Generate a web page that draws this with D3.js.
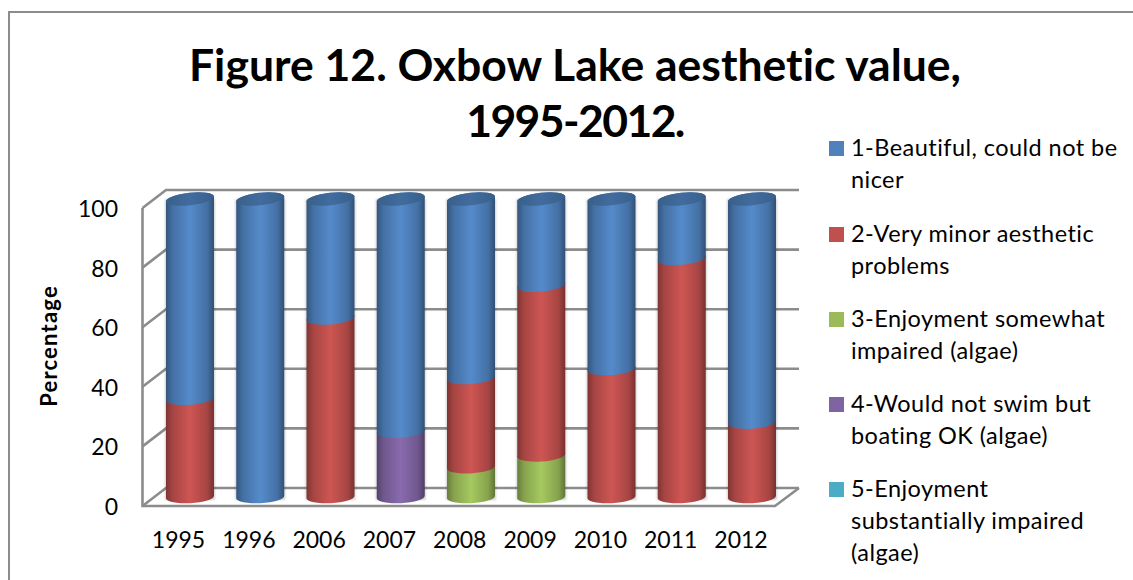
<!DOCTYPE html>
<html><head><meta charset="utf-8">
<script src="https://cdn.jsdelivr.net/npm/d3@7"></script>
<style>html,body{margin:0;padding:0;background:#fff;overflow:hidden}svg{display:block}text{font-family:Lato,"Open Sans",sans-serif;fill:#000;font-variant-ligatures:none}</style>
</head><body><svg id="c" width="1133" height="580"></svg>
<script>
const years=["1995","1996","2006","2007","2008","2009","2010","2011","2012"];
const beautiful=[67,100,40,78,60,29,57,20,75];
const veryMinor=[33,0,60,0,30,57,43,80,25];
const somewhat=[0,0,0,0,10,14,0,0,0];
const noSwim=[0,0,0,22,0,0,0,0,0];
const substantially=[0,0,0,0,0,0,0,0,0];
const yTicks=[0,20,40,60,80,100];
const titleLines=["Figure 12. Oxbow Lake aesthetic value,","1995-2012."];
const yTitle="Percentage";
const legendLines=[["1-Beautiful, could not be","nicer"],["2-Very minor aesthetic","problems"],["3-Enjoyment somewhat","impaired (algae)"],["4-Would not swim but","boating OK (algae)"],["5-Enjoyment","substantially impaired","(algae)"]];
const keys=["s1","s2","s3","s4","s5"];
const colors={s1:"#4f81bd",s2:"#c0504d",s3:"#9bbb59",s4:"#8064a2",s5:"#4bacc6"};
const stackOrder=["s5","s4","s3","s2","s1"];
const rows=years.map((y,i)=>({year:y,s1:beautiful[i],s2:veryMinor[i],s3:somewhat[i],s4:noSwim[i],s5:substantially[i]}));

const svg=d3.select("#c");
const frontX=d3.scaleBand().domain(years).range([142.5,775]);
const backX=d3.scaleBand().domain(years).range([166,799]);
const barX=d3.scaleBand().domain(years).range([166,776]).paddingInner(0.317).paddingOuter(0);
const frontY=d3.scaleLinear().domain([0,100]).range([506,208]);
const backY=d3.scaleLinear().domain([0,100]).range([488,190]);
const barY=d3.scaleLinear().domain([0,100]).range([497,199]);
const grey="#8c8c8c";

svg.append("path").attr("d","M9,580V12H1133").attr("fill","none").attr("stroke",grey).attr("stroke-width",2);

const grid=svg.append("g").attr("fill","none").attr("stroke",grey).attr("stroke-width",2.6);
grid.selectAll("path.g").data(yTicks).join("path").attr("class","g")
  .attr("d",t=>`M${frontX.range()[0]},${frontY(t)}L${backX.range()[0]},${backY(t)}L${backX.range()[1]},${backY(t)}`);
grid.append("path").attr("d",`M${frontX.range()[0]},${frontY(100)}V${frontY(0)}H${frontX.range()[1]}L${backX.range()[1]},${backY(0)}`);

const defs=svg.append("defs");
function grad(id,c){
  const b=d3.color(c);
  const g=defs.append("linearGradient").attr("id",id);
  [[0,b.darker(1.15)],[0.14,b.darker(0.4)],[0.5,b.brighter(0.2)],[0.86,b.darker(0.4)],[1,b.darker(1.35)]]
   .forEach(([o,col])=>g.append("stop").attr("offset",o).attr("stop-color",col.formatHex()));
}
keys.forEach(k=>grad("g"+k,colors[k]));
const gc=defs.append("linearGradient").attr("id","cap");
[[0,"#38608a"],[0.5,"#426c9e"],[1,"#38608a"]].forEach(([o,c])=>gc.append("stop").attr("offset",o).attr("stop-color",c));
const blur=defs.append("filter").attr("id","sh").attr("x","-20%").attr("width","140%");
blur.append("feGaussianBlur").attr("stdDeviation",1.2);

const stack=d3.stack().keys(stackOrder)(rows);
const rx=24, ry=6.2;
const tilt=d3.scaleLinear().domain([0,100]).range([1.3,2.6]);
const segs=[];
stack.forEach(layer=>layer.forEach((d,i)=>{ if(d[1]>d[0]) segs.push({key:layer.key,year:years[i],v0:d[0],v1:d[1]}); }));
const cx=y=>barX(y)+barX.bandwidth()/2;
const rot=v=>-Math.atan2(tilt(v),rx)*180/Math.PI;
function segPath(d){
  const c=cx(d.year),y0=barY(d.v0),y1=barY(d.v1),t0=tilt(d.v0),t1=tilt(d.v1);
  return `M${c-rx},${y0+t0}A${rx},${ry} ${rot(d.v0)} 0 0 ${c+rx},${y0-t0}L${c+rx},${y1-t1}A${rx},${ry} ${rot(d.v1)} 0 0 ${c-rx},${y1+t1}Z`;
}
svg.append("g").selectAll("rect").data(years).join("rect")
  .attr("x",y=>cx(y)-rx-1).attr("width",2*rx+2).attr("y",barY(100)).attr("height",barY(0)-barY(100)+3)
  .attr("fill","#000").attr("opacity",0.18).attr("filter","url(#sh)");
svg.append("g").selectAll("path").data(segs).join("path")
  .attr("d",segPath).attr("fill",d=>`url(#g${d.key})`);
svg.append("g").selectAll("path").data(years).join("path")
  .attr("d",y=>{const c=cx(y),yy=barY(100),t=tilt(100),r=rot(100);
    return `M${c-rx},${yy+t}A${rx},${ry} ${r} 0 0 ${c+rx},${yy-t}A${rx},${ry} ${r} 0 0 ${c-rx},${yy+t}Z`;})
  .attr("fill","url(#cap)");

const yAxis=d3.axisLeft(frontY).tickValues(yTicks).tickSize(0).tickPadding(0);
const yg=svg.append("g").attr("transform","translate(118,0)").call(yAxis);
yg.select(".domain").remove();
yg.selectAll("text").attr("font-size",23).attr("dy",8.5).attr("x",0).attr("text-anchor","end");
const xLabelX=d3.scalePoint().domain(years).range([178,740.5]);
const xAxis=d3.axisBottom(xLabelX).tickSize(0).tickPadding(0);
const xg=svg.append("g").attr("transform","translate(0,540)").call(xAxis);
xg.select(".domain").remove();
xg.selectAll("text").attr("font-size",23).attr("y",0).attr("dy",8).attr("text-anchor","middle");

svg.append("text").attr("transform","translate(57,346) rotate(-90)").attr("text-anchor","middle")
  .attr("font-size",22).attr("font-weight",700).attr("letter-spacing",1.2).text(yTitle);

svg.append("g").selectAll("text").data(titleLines).join("text")
  .attr("x",575).attr("y",(d,i)=>i?136.5:81).attr("text-anchor","middle")
  .attr("font-size",44.5).attr("font-weight",700).attr("letter-spacing",(d,i)=>i?-1.6:0).text(d=>d);

const legendY=[148,234,319,404,489];
const lineGap=d3.scaleLinear().domain([0,1]).range([0,32]);
const lg=svg.append("g").selectAll("g").data(keys).join("g").attr("transform",(k,i)=>`translate(0,${legendY[i]})`);
lg.append("rect").attr("x",829).attr("y",-7).attr("width",15).attr("height",15).attr("fill",k=>colors[k]);
lg.each(function(k,i){
  d3.select(this).selectAll("text").data(legendLines[i]).join("text")
    .attr("x",851).attr("y",(d,j)=>lineGap(j)+8).attr("font-size",23.5).attr("letter-spacing",0.45).text(d=>d);
});
</script></body></html>
